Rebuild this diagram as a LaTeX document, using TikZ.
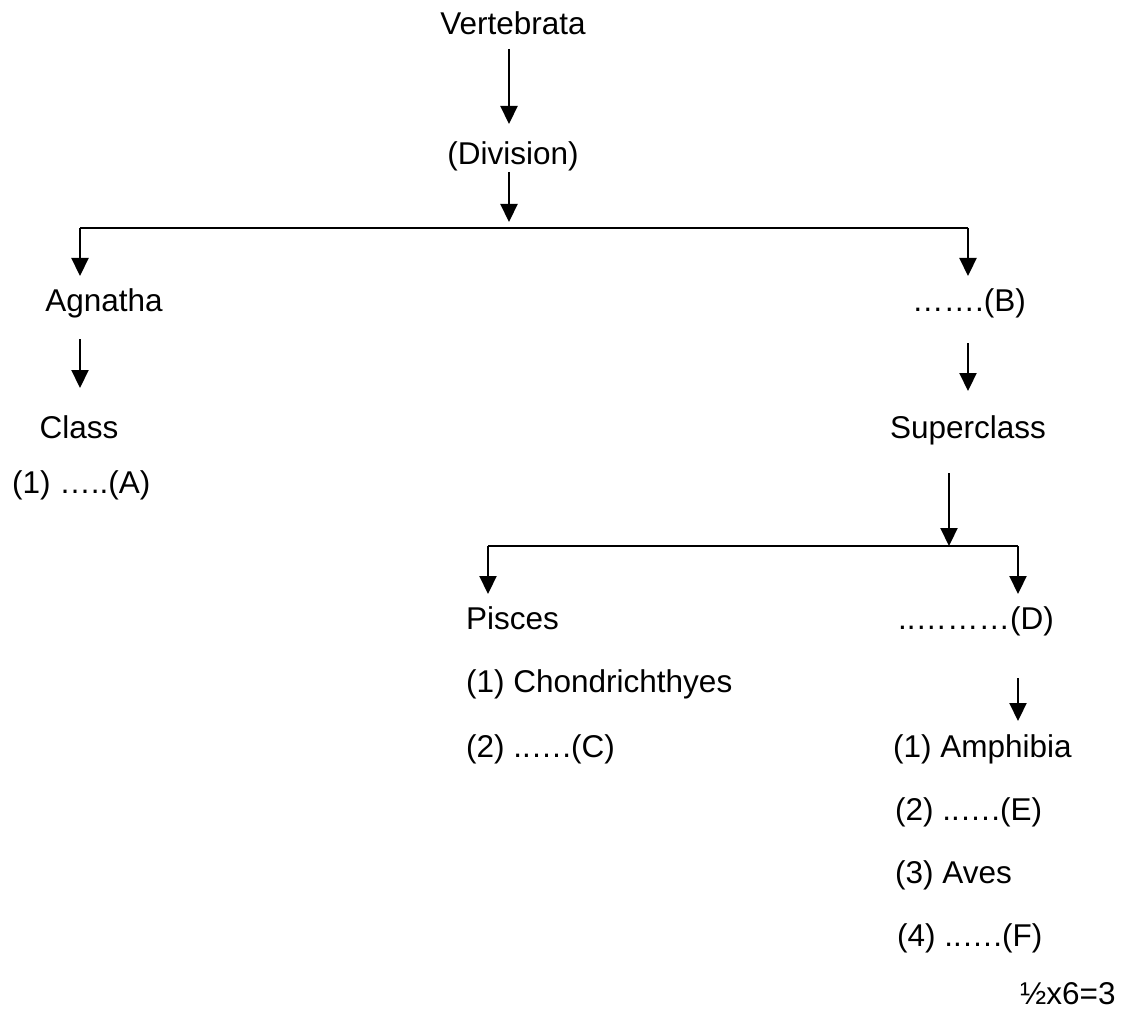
\documentclass[tikz,border=0pt]{standalone}
\usepackage{fontspec}
\setmainfont{Liberation Sans}
\usetikzlibrary{arrows.meta}
\begin{document}
\begin{tikzpicture}[x=1pt,y=-1pt,
  lbl/.style={font=\fontsize{31.5}{36}\selectfont, inner sep=0pt, anchor=base west},
  lblc/.style={font=\fontsize{31.5}{36}\selectfont, inner sep=0pt, anchor=base},
  arr/.style={line width=2.2pt, -{Triangle[width=17pt,length=18pt]}},
  brk/.style={line width=1.6pt}]
\useasboundingbox (0,0) rectangle (1122,1011);
% text nodes
\node[lblc] (vert) at (513,35) {Vertebrata};
\node[lblc] (div) at (513,165) {(Division)};
\node[lblc] (agn) at (104,311) {Agnatha};
\node[lblc] (cls) at (79,438) {Class};
\node[lbl] (ca) at (12,493) {(1) …..(A)};
\node[lblc] (cb) at (969,311) {…….(B)};
\node[lblc] (sup) at (968,438) {Superclass};
\node[lbl] (pis) at (466,629) {Pisces};
\node[lbl] (ch) at (466,692) {(1) Chondrichthyes};
\node[lbl] (cc) at (466,757) {(2) ..….(C)};
\node[lbl] (cd) at (898,629) {..………(D)};
\node[lbl] (amp) at (893,757) {(1) Amphibia};
\node[lbl] (ce) at (895,820) {(2) ..….(E)};
\node[lbl] (ave) at (895,883) {(3) Aves};
\node[lbl] (cf) at (897,946) {(4) ..….(F)};
\node[lbl] (mk) at (1020,1004) {½x6=3};
% connector coordinates
\coordinate (v1) at (509,49);
\coordinate (v2) at (509,124);
\coordinate (d1) at (509,172);
\coordinate (d2) at (509,222);
\coordinate (bl) at (80,228);
\coordinate (br) at (968,228);
\coordinate (bl2) at (80,276);
\coordinate (br2) at (968,276);
\coordinate (g1) at (80,339);
\coordinate (g2) at (80,388);
\coordinate (b1) at (968,343);
\coordinate (b2) at (968,391);
\coordinate (s1) at (949,473);
\coordinate (s2) at (949,546);
\coordinate (pl) at (488,546);
\coordinate (pr) at (1018,546);
\coordinate (pl2) at (488,594);
\coordinate (pr2) at (1018,594);
\coordinate (e1) at (1018,678);
\coordinate (e2) at (1018,721);
% connectors
\draw[arr] (v1) -- (v2);
\draw[arr] (d1) -- (d2);
\draw[brk] (bl) -- (br);
\draw[arr] (bl) -- (bl2);
\draw[arr] (br) -- (br2);
\draw[arr] (g1) -- (g2);
\draw[arr] (b1) -- (b2);
\draw[arr] (s1) -- (s2);
\draw[brk] (pl) -- (pr);
\draw[arr] (pl) -- (pl2);
\draw[arr] (pr) -- (pr2);
\draw[arr] (e1) -- (e2);
\end{tikzpicture}
\end{document}
